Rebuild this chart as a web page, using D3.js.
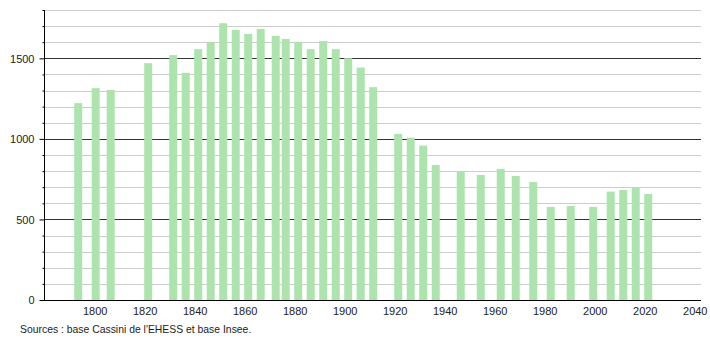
<!DOCTYPE html>
<html><head><meta charset="utf-8">
<script src="https://cdn.jsdelivr.net/npm/d3@7"></script>
<style>body{margin:0;background:#fff}svg{display:block}text{font-family:"Liberation Sans",Arial,sans-serif;font-size:11px;fill:#222}</style>
</head><body><svg id="c" width="710" height="340"></svg>
<script>
const years = [1793,1800,1806,1821,1831,1836,1841,1846,1851,1856,1861,1866,1872,1876,1881,1886,1891,1896,1901,1906,1911,1921,1926,1931,1936,1946,1954,1962,1968,1975,1982,1990,1999,2006,2011,2016,2021];
const population = [1222,1315,1304,1470,1520,1410,1557,1602,1718,1677,1652,1683,1640,1621,1602,1557,1607,1557,1501,1443,1321,1031,1008,958,838,799,776,814,770,733,578,584,578,673,683,698,658];
const xTicks = [1800,1820,1840,1860,1880,1900,1920,1940,1960,1980,2000,2020,2040];
const yTicks = [0,500,1000,1500];
const sourceText = "Sources : base Cassini de l'EHESS et base Insee.";

const svg = d3.select("#c");
const x = d3.scaleLinear().domain([1780, 2042.5]).range([44.7, 701]);
const y = d3.scaleLinear().domain([0, 1800]).range([300, 10]);
const barW = 8;

// grid lines
const minor = d3.range(100, 1801, 100).filter(v => v % 500 !== 0);
svg.append("g").selectAll("line").data(minor).join("line")
  .attr("x1", 44).attr("x2", 701)
  .attr("y1", d => Math.round(y(d)) + 0.5).attr("y2", d => Math.round(y(d)) + 0.5)
  .attr("stroke", "#cccccc").attr("stroke-width", 1);
svg.append("g").selectAll("line").data(yTicks.filter(v => v > 0)).join("line")
  .attr("x1", 44).attr("x2", 701)
  .attr("y1", d => Math.round(y(d)) + 0.5).attr("y2", d => Math.round(y(d)) + 0.5)
  .attr("stroke", "#333").attr("stroke-width", 1);

// bars
svg.append("g").selectAll("rect").data(years).join("rect")
  .attr("x", (d) => x(d) - barW / 2 + 1)
  .attr("width", barW)
  .attr("y", (d, i) => y(population[i]))
  .attr("height", (d, i) => y(0) - y(population[i]))
  .attr("fill", "#ade4ad");

// y axis
const yAxis = d3.axisLeft(y).tickValues(d3.range(0, 1801, 100))
  .tickSize(0).tickFormat(d => yTicks.includes(d) ? d : "");
const gy = svg.append("g").attr("transform", "translate(44.5,0)").call(yAxis);
gy.select(".domain").remove();
gy.selectAll(".tick line").remove();
gy.selectAll(".tick").append("line")
  .attr("x1", d => yTicks.includes(d) ? -5 : -2).attr("x2", 0)
  .attr("stroke", "#000");
gy.selectAll(".tick text").attr("x", -10).attr("dy", "0.35em")
  .style("font-family", "'Liberation Sans',Arial,sans-serif").style("font-size", "11px").attr("fill", "#222");
svg.append("line").attr("x1", 44.5).attr("x2", 44.5).attr("y1", 10).attr("y2", 300).attr("stroke", "#000");

// x axis
const xAxis = d3.axisBottom(x).tickValues(xTicks).tickSize(0).tickFormat(d3.format("d"));
const gx = svg.append("g").attr("transform", "translate(0,300.5)").call(xAxis);
gx.select(".domain").remove();
gx.selectAll(".tick text").attr("y", 7).attr("dy", "0.71em")
  .style("font-family", "'Liberation Sans',Arial,sans-serif").style("font-size", "11px").attr("fill", "#222");
svg.append("line").attr("x1", 40).attr("x2", 701).attr("y1", 300.5).attr("y2", 300.5).attr("stroke", "#000");

svg.append("text").attr("x", 20).attr("y", 333).style("font-size", "10.4px").text(sourceText);
</script></body></html>
